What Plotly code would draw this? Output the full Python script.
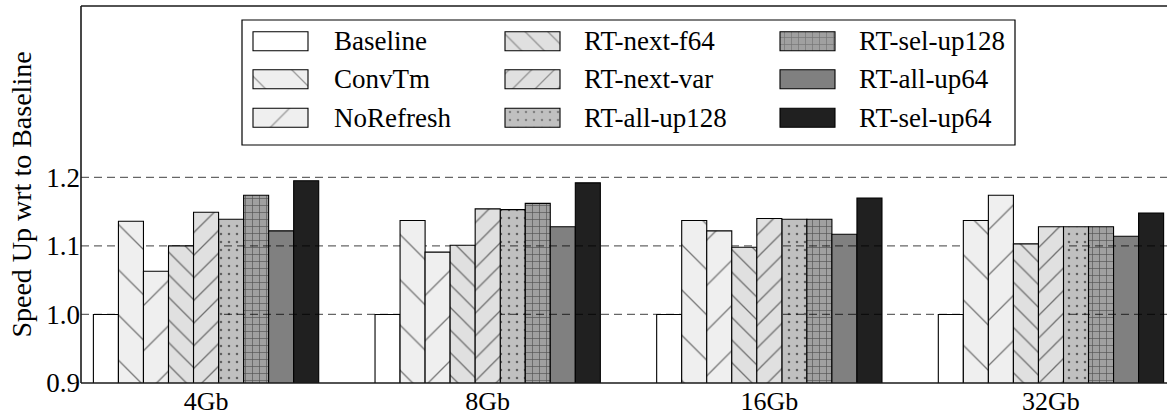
import plotly.graph_objects as go

# ---- data -------------------------------------------------------------
categories = ["4Gb", "8Gb", "16Gb", "32Gb"]

series_names = [
    "Baseline", "ConvTm", "NoRefresh",
    "RT-next-f64", "RT-next-var", "RT-all-up128",
    "RT-sel-up128", "RT-all-up64", "RT-sel-up64",
]

baseline     = [1.000, 1.000, 1.000, 1.000]
conv_tm      = [1.136, 1.137, 1.137, 1.137]
no_refresh   = [1.063, 1.091, 1.122, 1.174]
rt_next_f64  = [1.100, 1.101, 1.098, 1.103]
rt_next_var  = [1.149, 1.154, 1.140, 1.128]
rt_all_up128 = [1.139, 1.153, 1.139, 1.128]
rt_sel_up128 = [1.174, 1.162, 1.139, 1.128]
rt_all_up64  = [1.122, 1.128, 1.117, 1.114]
rt_sel_up64  = [1.195, 1.192, 1.170, 1.148]

series_values = [
    baseline, conv_tm, no_refresh,
    rt_next_f64, rt_next_var, rt_all_up128,
    rt_sel_up128, rt_all_up64, rt_sel_up64,
]

y_ticks = [0.9, 1.0, 1.1, 1.2]
y_tick_labels = ["0.9", "1.0", "1.1", "1.2"]

# ---- styling ----------------------------------------------------------
FONT = "Liberation Serif"
EDGE = "#000000"
HATCH = "#000000"

# fill colour, hatch shape, hatch tile size (px), hatch solidity, layer
styles = [
    ("#ffffff", "",   8,  0.10,  2),
    ("#efefef", "\\", 32, 0.042, 2),
    ("#efefef", "/",  32, 0.042, 2),
    ("#e0e0e0", "\\", 16, 0.082, 2),
    ("#e0e0e0", "/",  16, 0.082, 2),
    ("#c0c0c0", ".",  8,  0.08,  0),
    ("#a0a0a0", "+",  7,  0.17,  0),
    ("#808080", "",   8,  0.10,  0),
    ("#202020", "",   8,  0.10,  0),
]

n_series = len(series_names)
group_width = 0.8
bar_w = group_width / n_series
positions = list(range(len(categories)))
x_range = [-0.444, 3.412]

fig = go.Figure()

for i, (name, vals) in enumerate(zip(series_names, series_values)):
    color, shape, size, solidity, layer = styles[i]
    fig.add_trace(go.Bar(
        x=positions, y=vals, name=name,
        width=bar_w, offset=-group_width / 2 + i * bar_w,
        marker=dict(
            color=color,
            line=dict(color=EDGE, width=1.1),
            pattern=dict(shape=shape, size=size, solidity=solidity,
                         fgcolor=HATCH, bgcolor=color, fillmode="overlay"),
        ),
        zorder=layer, showlegend=False, hoverinfo="skip",
    ))

# dashed reference lines sit between the light hatched bars and the darker ones
for g in y_ticks[1:]:
    fig.add_trace(go.Scatter(
        x=x_range, y=[g, g], mode="lines",
        line=dict(color="rgba(0,0,0,0.6)", width=1.3, dash="8px,5px"),
        zorder=1, showlegend=False, hoverinfo="skip",
    ))

# ---- legend drawn as swatches on a small auxiliary axis ---------------
LEG_W, LEG_H = 773, 125
leg_rows = [21.2, 59.2, 97.8]
leg_swatch_x = [11, 263, 538]
leg_text_x = [90, 340, 615]
swatch_len, swatch_h = 55, 19

sw_y, sw_base, sw_color, sw_shape, sw_size, sw_sol = [], [], [], [], [], []
for i, name in enumerate(series_names):
    col, row = divmod(i, 3)
    color, shape, size, solidity, _ = styles[i]
    sw_y.append(leg_rows[row])
    sw_base.append(leg_swatch_x[col])
    sw_color.append(color)
    sw_shape.append(shape)
    sw_size.append(size)
    sw_sol.append(solidity)
    fig.add_annotation(
        x=leg_text_x[col], y=leg_rows[row], xref="x2", yref="y2",
        text=name, showarrow=False, xanchor="left", yanchor="middle",
        font=dict(family=FONT, size=27, color="#000000"),
    )

fig.add_trace(go.Bar(
    y=sw_y, x=[swatch_len] * n_series, base=sw_base, orientation="h",
    width=swatch_h, xaxis="x2", yaxis="y2",
    marker=dict(
        color=sw_color,
        line=dict(color=EDGE, width=1.1),
        pattern=dict(shape=sw_shape, size=sw_size, solidity=sw_sol,
                     fgcolor=HATCH, bgcolor=sw_color, fillmode="overlay"),
    ),
    showlegend=False, hoverinfo="skip",
))

# ---- layout -----------------------------------------------------------
W, H = 1167, 410
ML, MR, MT, MB = 81, 0, 6, 27
pw, ph = W - ML - MR, H - MT - MB
leg_x0, leg_x1 = (242 - ML) / pw, (1015 - ML) / pw
leg_y0, leg_y1 = (MT + ph - 145) / ph, (MT + ph - 20) / ph

frame = dict(color="#1a1a1a", width=1.6)
fig.add_shape(type="line", xref="paper", yref="paper", x0=0, x1=0, y0=0, y1=1, line=frame)
fig.add_shape(type="line", xref="paper", yref="paper", x0=0, x1=1, y0=0, y1=0, line=frame)
fig.add_shape(type="line", xref="paper", yref="paper", x0=0, x1=1, y0=1, y1=1, line=frame)
fig.add_shape(type="rect", xref="paper", yref="paper",
              x0=leg_x0, x1=leg_x1, y0=leg_y0, y1=leg_y1,
              line=dict(color="#000000", width=1.2))

fig.update_layout(
    width=W, height=H,
    margin=dict(l=ML, r=MR, t=MT, b=MB, pad=0, autoexpand=False),
    paper_bgcolor="#ffffff", plot_bgcolor="#ffffff",
    barmode="overlay", showlegend=False,
    font=dict(family=FONT, color="#000000"),
    xaxis=dict(
        range=x_range, tickmode="array", tickvals=positions, ticktext=categories,
        showline=False, showgrid=False, zeroline=False, ticks="",
        ticklabelstandoff=0, automargin=False,
        tickfont=dict(family=FONT, size=26, color="#000000"),
    ),
    yaxis=dict(
        range=[0.9, 1.45], tickmode="array", tickvals=y_ticks, ticktext=y_tick_labels,
        showline=False, showgrid=False, zeroline=False, ticks="",
        ticklabelstandoff=0, automargin=False,
        tickfont=dict(family=FONT, size=27, color="#000000"),
        title=dict(text="Speed Up wrt to Baseline",
                   font=dict(family=FONT, size=28, color="#000000"), standoff=6),
    ),
    xaxis2=dict(
        domain=[leg_x0, leg_x1], anchor="y2", range=[0, LEG_W],
        showline=False, showgrid=False, zeroline=False, showticklabels=False,
        ticks="", fixedrange=True, automargin=False,
    ),
    yaxis2=dict(
        domain=[leg_y0, leg_y1], anchor="x2", range=[LEG_H, 0],
        showline=False, showgrid=False, zeroline=False, showticklabels=False,
        ticks="", fixedrange=True, automargin=False,
    ),
)

fig.write_html("out.html")
